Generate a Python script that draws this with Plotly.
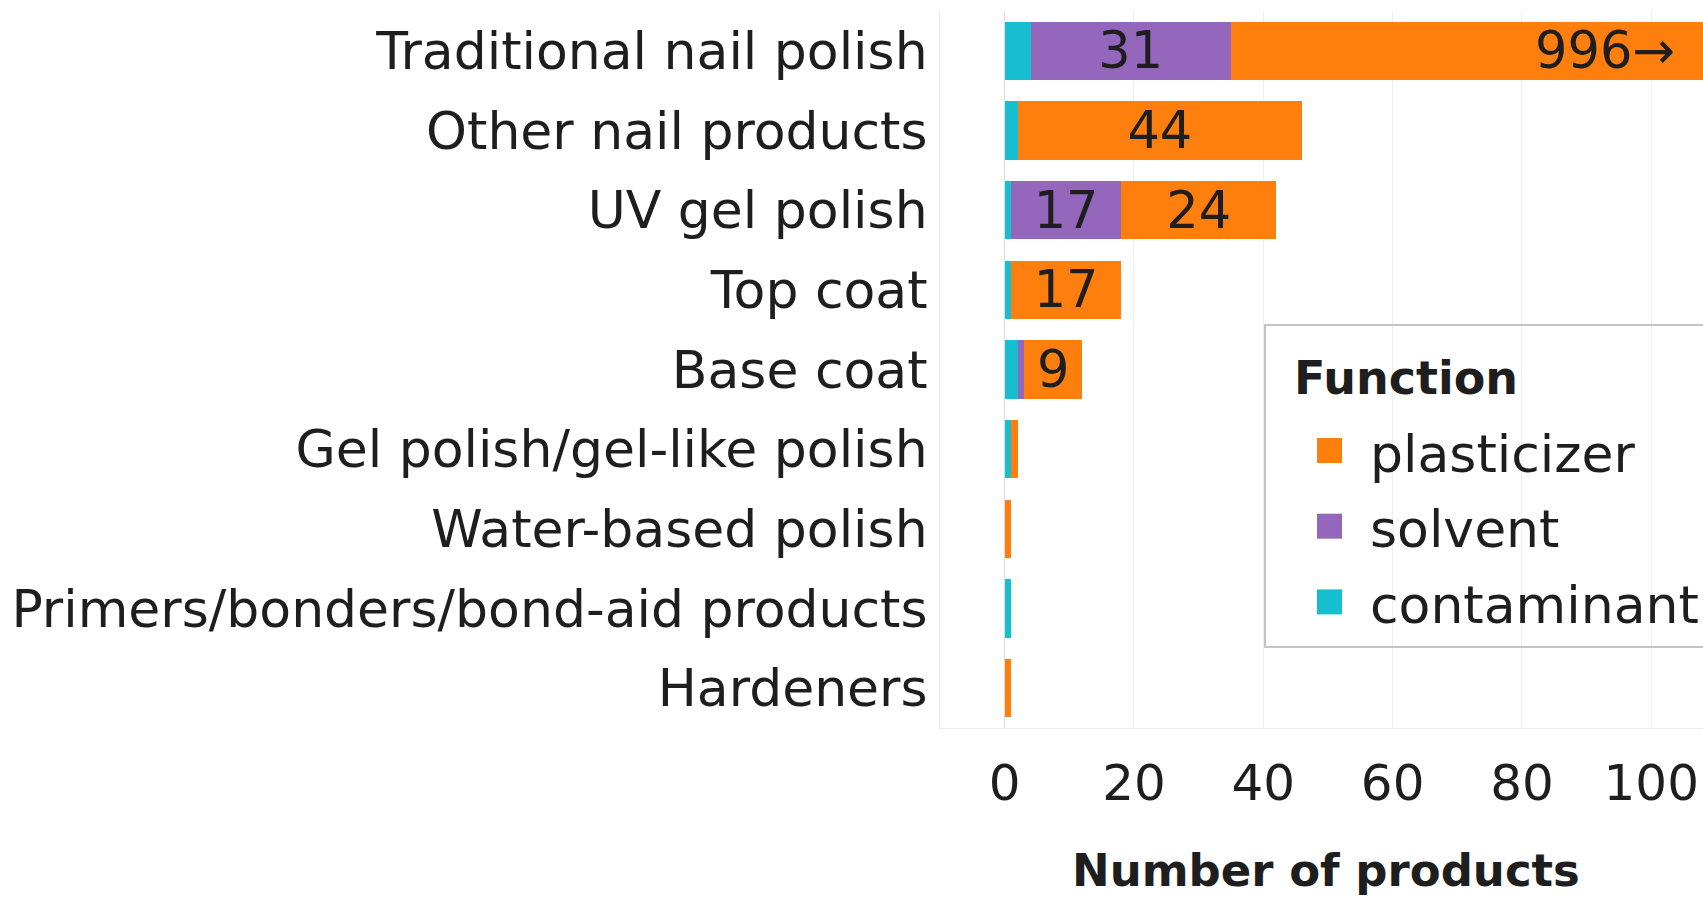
import plotly.graph_objects as go

categories = [
    "Traditional nail polish",
    "Other nail products",
    "UV gel polish",
    "Top coat",
    "Base coat",
    "Gel polish/gel-like polish",
    "Water-based polish",
    "Primers/bonders/bond-aid products",
    "Hardeners",
]

contaminant = [4, 2, 1, 1, 2, 1, 0, 1, 0]
solvent = [31, 0, 17, 0, 1, 0, 0, 0, 0]
plasticizer = [996, 44, 24, 17, 9, 1, 1, 0, 1]

x_ticks = [0, 20, 40, 60, 80, 100]
x_range = [-10, 108]
x_title = "Number of products"

legend_title = "Function"
legend_order = ["plasticizer", "solvent", "contaminant"]

colors = {
    "plasticizer": "#FF7F0E",
    "solvent": "#9467BD",
    "contaminant": "#17BECF",
}

FONT = "DejaVu Sans"
TXT = "#1e1e1e"

W, H = 1703, 897
M_L, M_T, M_B = 940, 11, 169


def px(x):
    # page pixel -> paper x
    return (x - M_L) / (W - M_L)


def py(y):
    # page pixel -> paper y
    return (H - M_B - y) / (H - M_T - M_B)


def bar_labels(values):
    # only label segments wide enough; values past the axis get an annotation instead
    out = []
    for v in values:
        if 5 <= v <= x_range[1]:
            out.append(str(v))
        else:
            out.append("")
    return out


fig = go.Figure()

series = {"contaminant": contaminant, "solvent": solvent, "plasticizer": plasticizer}
for name, vals in series.items():
    fig.add_trace(go.Bar(
        y=categories,
        x=vals,
        name=name,
        orientation="h",
        marker=dict(color=colors[name], line=dict(width=0)),
        text=bar_labels(vals),
        textposition="inside",
        insidetextanchor="middle",
        textangle=0,
        constraintext="none",
        textfont=dict(family=FONT, size=51, color=TXT),
        showlegend=False,
    ))

# label for the bar running off the axis
for cat, v in zip(categories, plasticizer):
    if v > x_range[1]:
        fig.add_annotation(
            x=x_range[1] - 4, y=cat, text=f"{v}\u2192",
            xanchor="right", showarrow=False,
            font=dict(family=FONT, size=51, color=TXT),
        )

# x axis title, sitting low near the bottom edge
fig.add_annotation(
    xref="paper", yref="paper", x=px(1326), y=py(870),
    text=f"<b>{x_title}</b>", showarrow=False,
    xanchor="center", yanchor="middle",
    font=dict(family=FONT, size=45, color=TXT),
)

# legend box (transparent, grid shows through, runs off the right edge)
fig.add_shape(
    type="rect", xref="paper", yref="paper",
    x0=px(1265), x1=px(1740), y0=py(647), y1=py(325),
    line=dict(color="#c4c4c4", width=2), fillcolor="rgba(0,0,0,0)", layer="above",
)
fig.add_annotation(
    xref="paper", yref="paper", x=px(1292), y=py(378),
    text=f"<b>{legend_title}</b>", showarrow=False,
    xanchor="left", yanchor="middle",
    font=dict(family=FONT, size=46, color=TXT),
)
for i, name in enumerate(legend_order):
    yc = 450.5 + i * 75.7
    fig.add_shape(
        type="rect", xref="paper", yref="paper",
        x0=px(1317), x1=px(1342), y0=py(yc + 12.5), y1=py(yc - 12.5),
        line=dict(width=0), fillcolor=colors[name], layer="above",
    )
    fig.add_annotation(
        xref="paper", yref="paper", x=px(1368), y=py(yc + 3),
        text=name, showarrow=False,
        xanchor="left", yanchor="middle",
        font=dict(family=FONT, size=52, color=TXT),
    )

fig.update_layout(
    width=W,
    height=H,
    barmode="stack",
    bargap=0.27,
    plot_bgcolor="white",
    paper_bgcolor="white",
    font=dict(family=FONT, size=50, color=TXT),
    margin=dict(l=M_L, r=0, t=M_T, b=M_B, autoexpand=False),
    showlegend=False,
    xaxis=dict(
        range=x_range,
        tickvals=x_ticks,
        showgrid=True,
        gridcolor="#efefef",
        gridwidth=1,
        zeroline=True,
        zerolinecolor="#dddddd",
        zerolinewidth=1,
        showline=True,
        linecolor="#eaeaea",
        ticks="",
        ticklabelstandoff=11,
        tickfont=dict(family=FONT, size=50, color=TXT),
        fixedrange=True,
    ),
    yaxis=dict(
        categoryorder="array",
        categoryarray=categories,
        autorange="reversed",
        showgrid=False,
        showline=True,
        linecolor="#eaeaea",
        ticks="",
        ticklabelstandoff=1,
        tickfont=dict(family=FONT, size=52, color=TXT),
        fixedrange=True,
    ),
)

fig.write_html(
    "out.html",
    config={"displayModeBar": False},
    post_script="document.body.style.margin='0';document.documentElement.style.overflow='hidden';",
)
